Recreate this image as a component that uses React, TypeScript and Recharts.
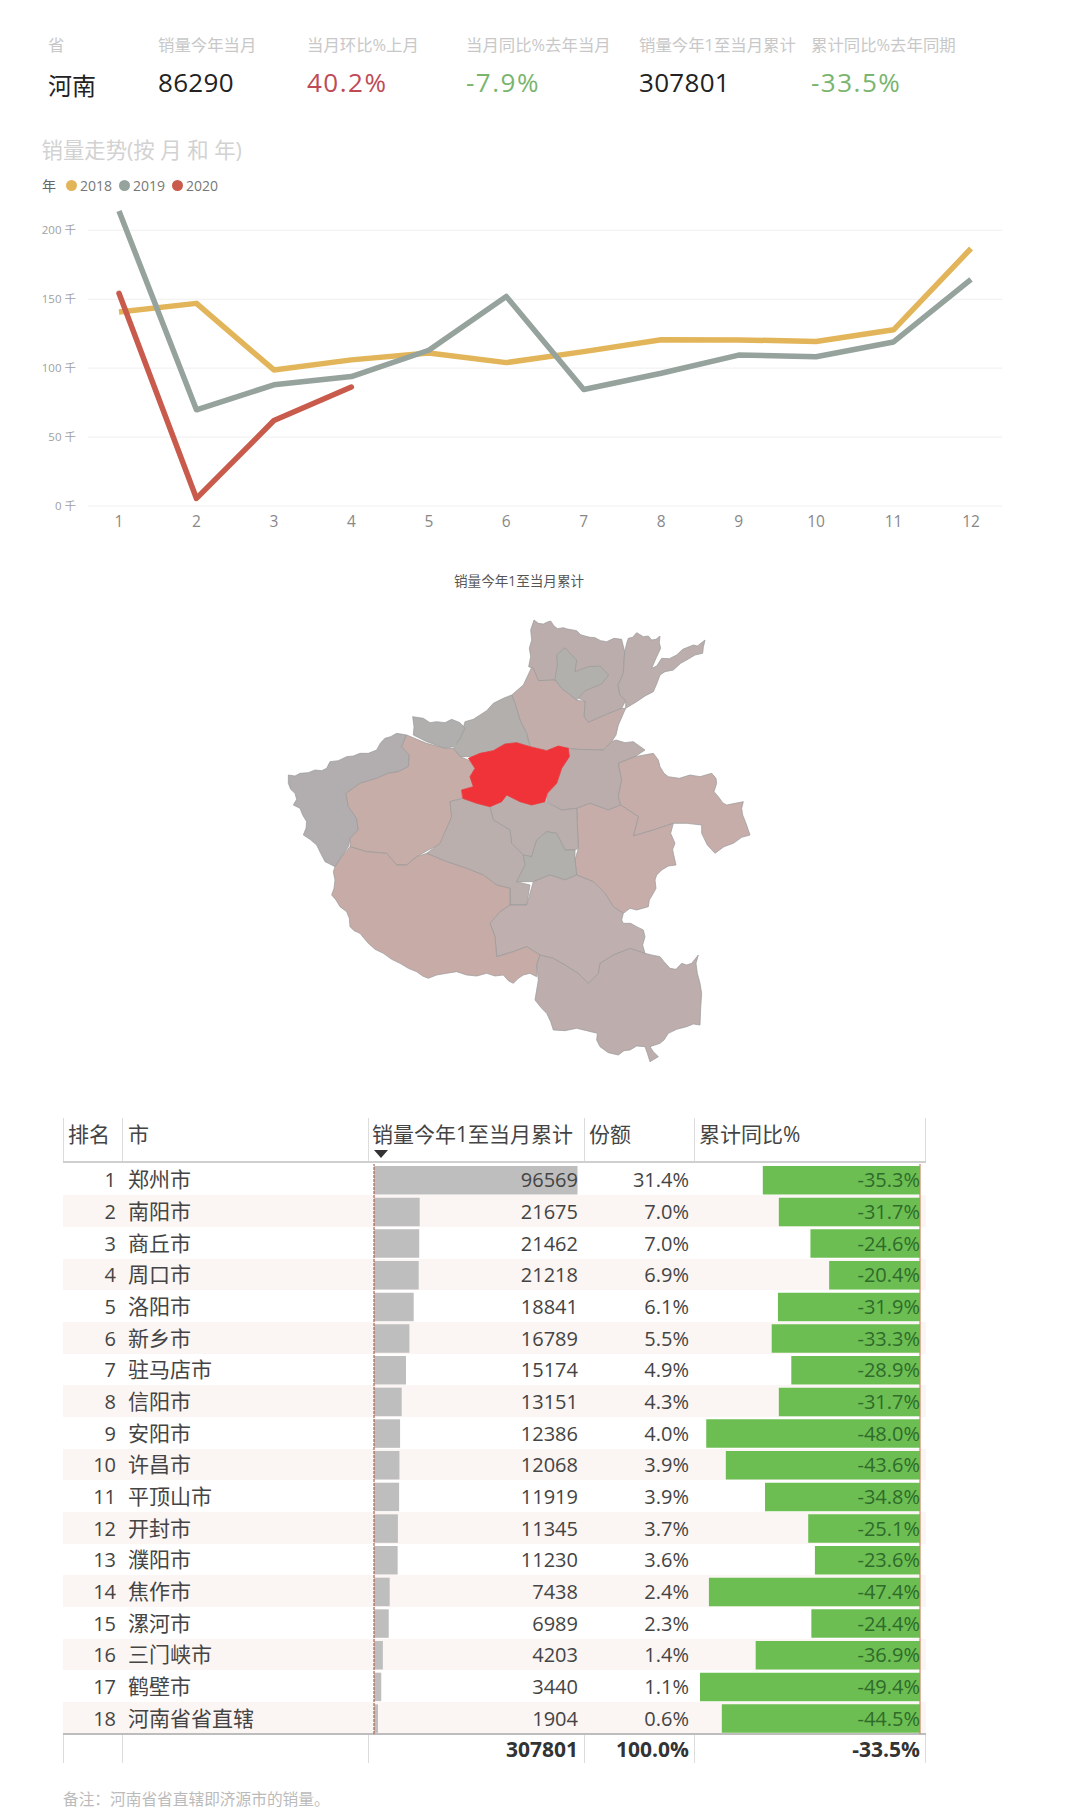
import React from "react";
import {
  Bar,
  BarChart,
  CartesianGrid,
  Legend,
  Line,
  LineChart,
  ReferenceLine,
  Scatter,
  ScatterChart,
  XAxis,
  YAxis,
} from "recharts";

const FONT = '"Open Sans", "Noto Sans CJK SC", sans-serif';

// KPI strip
const kpiLabels = ["省", "销量今年当月", "当月环比%上月", "当月同比%去年当月", "销量今年1至当月累计", "累计同比%去年同期"];
const kpiValues = ["河南", "86290", "40.2%", "-7.9%", "307801", "-33.5%"];
const kpiColors = ["#222", "#222", "#BE4A56", "#79B56E", "#222", "#79B56E"];
const kpiX = [48, 158, 307, 466, 639, 811];
const kpiSpacing = [0, 0.3, 1.5, 1.5, 0.3, 1.5];

// trend, in thousands
const months = ["1", "2", "3", "4", "5", "6", "7", "8", "9", "10", "11", "12"];
const y2018 = [140.8, 147, 98.7, 106, 111, 104, 112, 120.6, 120.5, 119.4, 127.8, 186.8];
const y2019 = [214, 69.8, 87.9, 93.9, 113, 152, 84.5, 96.3, 109.5, 108.3, 119, 164.4];
const y2020 = [154.3, 5.5, 62, 86.3];
const yTicks = [0, 50, 100, 150, 200];
const trend = months.map((m, i) => ({ m, a: y2018[i], b: y2019[i], c: y2020[i] }));

// table
const cities = ["郑州市", "南阳市", "商丘市", "周口市", "洛阳市", "新乡市", "驻马店市", "信阳市", "安阳市", "许昌市", "平顶山市", "开封市", "濮阳市", "焦作市", "漯河市", "三门峡市", "鹤壁市", "河南省省直辖"];
const sales = [96569, 21675, 21462, 21218, 18841, 16789, 15174, 13151, 12386, 12068, 11919, 11345, 11230, 7438, 6989, 4203, 3440, 1904];
const shares = ["31.4%", "7.0%", "7.0%", "6.9%", "6.1%", "5.5%", "4.9%", "4.3%", "4.0%", "3.9%", "3.9%", "3.7%", "3.6%", "2.4%", "2.3%", "1.4%", "1.1%", "0.6%"];
const yoy = [-35.3, -31.7, -24.6, -20.4, -31.9, -33.3, -28.9, -31.7, -48.0, -43.6, -34.8, -25.1, -23.6, -47.4, -24.4, -36.9, -49.4, -44.5];
const rows = cities.map((c, i) => ({ c, sales: sales[i], yoy: yoy[i] }));

// map outlines (units: 1560 across the map box)
const anyang = [[822,180],[835,190],[850,192],[862,186],[872,183],[882,198],[893,206],[910,203],[922,207],[950,212],[962,224],[975,228],[990,232],[1005,233],[1022,242],[1040,245],[1062,235],[1085,238],[1094,275],[1090,340],[1074,375],[1080,405],[1097,422],[1085,445],[1040,463],[985,487],[972,470],[975,425],[930,400],[885,360],[835,362],[820,325],[806,320],[812,290],[808,265],[815,240],[812,210]];
const hebi = [[915,263],[935,285],[950,300],[945,335],[985,320],[1020,318],[1046,345],[1025,372],[975,392],[950,420],[925,400],[905,385],[885,358],[892,315],[890,285]];
const puyang = [[1094,275],[1100,250],[1105,235],[1118,232],[1130,218],[1150,230],[1165,228],[1175,240],[1188,238],[1200,228],[1198,248],[1202,265],[1188,295],[1175,325],[1190,318],[1205,295],[1228,296],[1250,285],[1268,268],[1300,255],[1312,258],[1335,240],[1330,262],[1328,280],[1305,285],[1280,300],[1262,310],[1240,330],[1215,335],[1200,345],[1190,372],[1180,395],[1155,408],[1130,425],[1097,445],[1097,422],[1080,405],[1074,375],[1090,340]];
const xinxiang = [[790,375],[815,322],[820,325],[835,362],[885,360],[905,385],[925,400],[950,420],[975,425],[972,470],[985,487],[1040,463],[1085,445],[1097,445],[1075,495],[1068,525],[1055,545],[1030,570],[950,568],[925,565],[895,560],[860,572],[810,560],[800,520],[780,480],[765,430],[755,405]];
const jiaozuo = [[755,405],[765,430],[780,480],[800,520],[810,560],[770,548],[735,552],[700,572],[640,590],[600,590],[580,565],[600,535],[615,485],[640,478],[660,465],[680,452],[700,430],[730,415]];
const jiyuan = [[458,470],[490,475],[510,488],[530,485],[555,488],[575,478],[600,488],[615,505],[600,535],[580,560],[555,565],[500,545],[460,525],[462,500]];
const sanmenxia = [[85,645],[105,648],[120,640],[145,638],[165,630],[185,632],[200,625],[210,605],[235,602],[260,590],[280,588],[300,580],[325,580],[350,570],[362,548],[375,535],[392,530],[410,520],[440,525],[425,560],[448,585],[445,620],[415,635],[385,640],[350,655],[300,670],[258,700],[265,740],[290,775],[295,810],[270,835],[265,860],[245,890],[225,920],[205,910],[195,905],[182,880],[170,855],[150,838],[130,825],[138,805],[140,785],[128,765],[120,745],[100,735],[110,718],[105,700],[92,688],[85,670]];
const luoyang = [[440,525],[500,550],[555,565],[580,565],[600,590],[625,600],[645,625],[630,650],[640,680],[605,690],[605,715],[570,725],[575,770],[555,845],[505,870],[470,890],[440,915],[410,915],[380,880],[320,875],[270,860],[270,835],[295,810],[290,775],[265,740],[258,700],[300,670],[350,655],[385,640],[415,635],[445,620],[448,585],[425,560]];
const zhengzhou = [[625,595],[660,580],[700,572],[735,552],[770,548],[810,560],[860,572],[895,558],[925,565],[928,590],[905,625],[890,670],[862,700],[855,725],[815,735],[780,725],[740,705],[725,725],[690,740],[650,730],[608,715],[605,690],[640,680],[630,650],[645,625]];
const kaifeng = [[925,565],[950,568],[1030,570],[1055,545],[1068,540],[1095,548],[1120,545],[1155,570],[1125,590],[1075,610],[1085,660],[1075,710],[1082,735],[1045,750],[990,730],[950,745],[905,750],[860,725],[862,700],[890,670],[905,625],[928,590]];
const shangqiu = [[1075,610],[1125,590],[1180,580],[1195,600],[1200,620],[1212,640],[1225,650],[1258,655],[1290,645],[1320,650],[1355,640],[1368,655],[1370,670],[1362,695],[1375,710],[1388,728],[1400,735],[1425,730],[1450,725],[1445,745],[1448,765],[1458,790],[1470,825],[1445,832],[1420,850],[1392,860],[1365,880],[1342,855],[1325,820],[1325,795],[1280,790],[1240,790],[1180,810],[1120,828],[1135,770],[1082,735],[1075,710],[1085,660]];
const zhoukou = [[950,745],[990,730],[1045,750],[1082,735],[1135,770],[1120,828],[1180,810],[1240,790],[1232,820],[1245,850],[1238,868],[1240,880],[1248,915],[1225,918],[1205,930],[1190,945],[1185,960],[1188,985],[1180,1000],[1168,1020],[1165,1040],[1130,1050],[1110,1045],[1090,1060],[1060,1040],[1035,1000],[1000,965],[950,945],[945,900],[955,865]];
const xuchang = [[690,740],[725,725],[740,705],[780,725],[815,735],[855,725],[905,750],[950,745],[955,865],[945,870],[915,870],[890,820],[860,815],[830,840],[815,890],[790,885],[755,850],[750,810],[700,780]];
const pingdingshan = [[570,725],[608,715],[650,730],[690,740],[700,780],[750,810],[755,850],[790,885],[795,915],[770,965],[810,975],[800,1035],[750,1035],[750,985],[710,975],[670,945],[620,925],[560,905],[500,880],[540,850],[575,770]];
const luohe = [[790,885],[815,890],[830,840],[860,815],[890,820],[915,870],[945,870],[945,900],[950,945],[915,960],[870,945],[820,965],[770,965],[795,915]];
const zhumadian = [[820,965],[870,945],[915,960],[950,945],[1000,965],[1035,1000],[1060,1040],[1090,1060],[1085,1080],[1090,1090],[1112,1090],[1130,1100],[1150,1110],[1155,1130],[1148,1155],[1155,1180],[1110,1165],[1060,1185],[1020,1210],[1015,1240],[985,1270],[955,1240],[915,1215],[880,1195],[840,1185],[800,1160],[760,1175],[710,1190],[705,1130],[690,1090],[720,1055],[750,1035],[800,1035]];
const nanyang = [[225,920],[245,890],[270,860],[320,875],[380,880],[410,915],[440,915],[470,890],[500,880],[560,905],[620,925],[670,945],[710,975],[750,985],[750,1035],[720,1055],[690,1090],[705,1130],[710,1190],[760,1175],[800,1160],[840,1185],[830,1215],[830,1250],[810,1240],[790,1245],[775,1255],[760,1270],[745,1262],[730,1245],[705,1248],[680,1240],[650,1248],[620,1245],[590,1235],[560,1240],[530,1245],[505,1255],[488,1248],[470,1235],[445,1225],[420,1210],[395,1198],[370,1180],[345,1168],[325,1150],[312,1135],[300,1120],[282,1112],[270,1100],[268,1075],[260,1055],[240,1040],[228,1020],[215,1005],[222,985],[225,960],[220,935]];
const xinyang = [[840,1185],[880,1195],[915,1215],[955,1240],[985,1270],[1015,1240],[1020,1210],[1060,1185],[1110,1165],[1155,1180],[1175,1185],[1200,1190],[1212,1205],[1230,1225],[1248,1228],[1265,1210],[1280,1215],[1295,1210],[1315,1185],[1308,1210],[1312,1240],[1320,1270],[1325,1300],[1322,1345],[1320,1395],[1300,1392],[1280,1400],[1250,1408],[1225,1420],[1212,1440],[1200,1450],[1170,1460],[1180,1475],[1195,1490],[1182,1498],[1170,1505],[1162,1480],[1155,1460],[1130,1458],[1110,1470],[1092,1472],[1075,1485],[1045,1478],[1020,1460],[1010,1440],[1012,1420],[980,1412],[950,1405],[915,1412],[880,1410],[872,1385],[860,1360],[845,1345],[825,1320],[830,1290],[835,1260],[830,1215]];

const regions = [anyang, puyang, xinxiang, jiaozuo, jiyuan, sanmenxia, luoyang, kaifeng, shangqiu, zhoukou, xuchang, pingdingshan, luohe, zhumadian, nanyang, xinyang, hebi, zhengzhou];
const regionColors = ["#BBADAC", "#BBAEAC", "#C2ADAA", "#B2AFAD", "#B0AFAE", "#B2ADAE", "#C6ADA8", "#BBADAB", "#C6ADA9", "#C6ADA9", "#BBAFAE", "#BBAFAE", "#B2B0AC", "#BFB0AF", "#C6ABA6", "#BDADAC", "#B2B0AC", "#EF3338"];

function T({ x, y, right, size, color, weight, children }: any) {
  return (
    <div
      style={{
        position: "absolute",
        top: y,
        left: right ? undefined : x,
        right: right ? 1080 - x : undefined,
        transform: "translateY(-50%)",
        fontSize: size,
        color,
        fontWeight: weight ?? 400,
        fontFamily: FONT,
        whiteSpace: "nowrap",
        lineHeight: 1.2,
        zIndex: 3,
      }}
    >
      {children}
    </div>
  );
}

function VLine({ x, top, bottom }: any) {
  return <div style={{ position: "absolute", left: x, top, height: bottom - top, width: 1, background: "#dcdcdc" }} />;
}

function TrendLegend() {
  const items = [["2018", "#E3B55A"], ["2019", "#95A39C"], ["2020", "#C85B4B"]];
  return (
    <div style={{ display: "flex", alignItems: "center", fontFamily: FONT, fontSize: 14, color: "#777" }}>
      <span style={{ width: 24, color: "#666" }}>年</span>
      {items.map(([name, color]) => (
        <span key={name} style={{ display: "flex", alignItems: "center", width: 53 }}>
          <span style={{ width: 11, height: 11, borderRadius: 6, background: color, marginRight: 3 }} />
          {name}
        </span>
      ))}
    </div>
  );
}

const ROW_TOP = 1163.5;
const ROW_H = 31.67;
const rowY = (i: number) => ROW_TOP + ROW_H * (i + 0.5) + 1;

export default function App() {
  return (
    <div style={{ position: "absolute", left: 0, top: 0, width: 1080, height: 1818, background: "#fff", overflow: "hidden" }}>
      {kpiLabels.map((l, i) => (
        <T key={l} x={kpiX[i]} y={45} size={16.4} color="#c8c8c8">{l}</T>
      ))}
      {kpiValues.map((v, i) => (
        <T key={v + i} x={kpiX[i]} y={i === 0 ? 86 : 83} size={i === 0 ? 24 : 26} color={kpiColors[i]}>
          <span style={{ letterSpacing: kpiSpacing[i] }}>{v}</span>
        </T>
      ))}
      <T x={41.5} y={150} size={21.4} color="#d2d2d2">销量走势(按 月 和 年)</T>

      <div style={{ position: "absolute", left: 0, top: 170 }}>
        <LineChart width={1080} height={384} data={trend} margin={{ top: 21, right: 78, bottom: 24, left: 0 }}>
          <Legend
            verticalAlign="top"
            align="left"
            content={() => <TrendLegend />}
            wrapperStyle={{ position: "absolute", left: 42, top: 5, width: 260 }}
          />
          <CartesianGrid vertical={false} stroke="#efefef" syncWithTicks horizontalValues={yTicks} />
          <XAxis
            dataKey="m"
            height={24}
            padding={{ left: 31, right: 31 }}
            axisLine={false}
            tickLine={false}
            tickSize={0}
            tickMargin={10}
            tick={{ fontSize: 15.5, fill: "#888", fontFamily: FONT }}
          />
          <YAxis
            width={88}
            domain={[0, 214]}
            ticks={yTicks}
            tickFormatter={(v) => `${v} 千`}
            axisLine={false}
            tickLine={false}
            tickSize={0}
            tickMargin={12}
            tick={{ fontSize: 11.5, fill: "#a0a0a0", fontFamily: FONT }}
          />
          <Line dataKey="a" stroke="#E3B55A" strokeWidth={5.5} dot={false} isAnimationActive={false} strokeLinejoin="round" />
          <Line dataKey="b" stroke="#95A39C" strokeWidth={5.5} dot={false} isAnimationActive={false} strokeLinejoin="round" />
          <Line dataKey="c" stroke="#C85B4B" strokeWidth={5.5} dot={false} isAnimationActive={false} strokeLinejoin="round" strokeLinecap="round" />
        </LineChart>
      </div>

      <T x={454} y={581} size={13.6} color="#555">销量今年1至当月累计</T>
      <div style={{ position: "absolute", left: 260, top: 560 }}>
        <ScatterChart width={520} height={520} margin={{ top: 0, right: 0, bottom: 0, left: 0 }}>
          <XAxis type="number" dataKey="x" domain={[0, 1560]} hide />
          <YAxis type="number" dataKey="y" domain={[0, 1560]} reversed hide />
          {regions.map((r, i) => (
            <Scatter
              key={i}
              data={[...r, r[0]].map(([x, y]) => ({ x, y }))}
              isAnimationActive={false}
              shape={() => <g />}
              line={{ fill: regionColors[i], stroke: i === 17 ? "#EF3338" : "#9a9a9a", strokeWidth: 0.7, strokeLinejoin: "round" }}
            />
          ))}
        </ScatterChart>
      </div>

      {/* table */}
      {cities.map((_, i) =>
        i % 2 === 1 ? (
          <div key={i} style={{ position: "absolute", left: 63, width: 863, top: ROW_TOP + ROW_H * i, height: ROW_H, background: "#FBF5F3" }} />
        ) : null,
      )}
      <div style={{ position: "absolute", left: 63, width: 863, top: 1161, height: 2, background: "#cfcfcf" }} />
      <div style={{ position: "absolute", left: 63, width: 863, top: 1733, height: 2, background: "#bdbdbd" }} />
      {[63, 122, 368, 584, 694, 925].map((x) => (
        <React.Fragment key={x}>
          <VLine x={x} top={1118} bottom={1161} />
          <VLine x={x} top={1735} bottom={1763} />
        </React.Fragment>
      ))}
      <T x={68} y={1135} size={21} color="#444">排名</T>
      <T x={128} y={1135} size={21} color="#444">市</T>
      <T x={372} y={1135} size={21} color="#444">销量今年1至当月累计</T>
      <T x={589} y={1135} size={21} color="#444">份额</T>
      <T x={699} y={1135} size={21} color="#444">累计同比%</T>
      <div style={{ position: "absolute", left: 374, top: 1150, width: 0, height: 0, borderLeft: "7px solid transparent", borderRight: "7px solid transparent", borderTop: "8px solid #333" }} />

      <div style={{ position: "absolute", left: 373.3, top: ROW_TOP, zIndex: 1 }}>
        <BarChart width={204.5} height={570} layout="vertical" data={rows} margin={{ top: 0, right: 0, bottom: 0, left: 1 }}>
          <XAxis type="number" domain={[0, 96569]} hide />
          <YAxis type="category" dataKey="c" hide />
          <Bar dataKey="sales" fill="#BEBEBE" barSize={28.5} isAnimationActive={false} />
          <ReferenceLine x={0} stroke="#B5604C" strokeWidth={1.2} strokeDasharray="3 1" />
        </BarChart>
      </div>
      <div style={{ position: "absolute", left: 700, top: ROW_TOP, zIndex: 1 }}>
        <BarChart width={221} height={570} layout="vertical" data={rows} margin={{ top: 0, right: 1, bottom: 0, left: 0 }}>
          <XAxis type="number" domain={[-49.4, 0]} hide />
          <YAxis type="category" dataKey="c" hide />
          <Bar dataKey="yoy" fill="#6CBE52" barSize={28.5} isAnimationActive={false} />
          <ReferenceLine x={0} stroke="#C98A5E" strokeWidth={1.2} />
        </BarChart>
      </div>

      {cities.map((c, i) => (
        <React.Fragment key={c}>
          <T x={116} y={rowY(i)} right size={20} color="#444">{i + 1}</T>
          <T x={128} y={rowY(i)} size={21} color="#444">{c}</T>
          <T x={578} y={rowY(i)} right size={20} color="#444">{sales[i]}</T>
          <T x={689} y={rowY(i)} right size={20} color="#444">{shares[i]}</T>
          <T x={920} y={rowY(i)} right size={20} color="#2F6B2B">{yoy[i].toFixed(1)}%</T>
        </React.Fragment>
      ))}
      <T x={578} y={1750} right size={21} weight={700} color="#333">307801</T>
      <T x={689} y={1750} right size={21} weight={700} color="#333">100.0%</T>
      <T x={920} y={1750} right size={21} weight={700} color="#333">-33.5%</T>
      <T x={63} y={1799} size={15.7} color="#bbb">备注：河南省省直辖即济源市的销量。</T>
    </div>
  );
}
